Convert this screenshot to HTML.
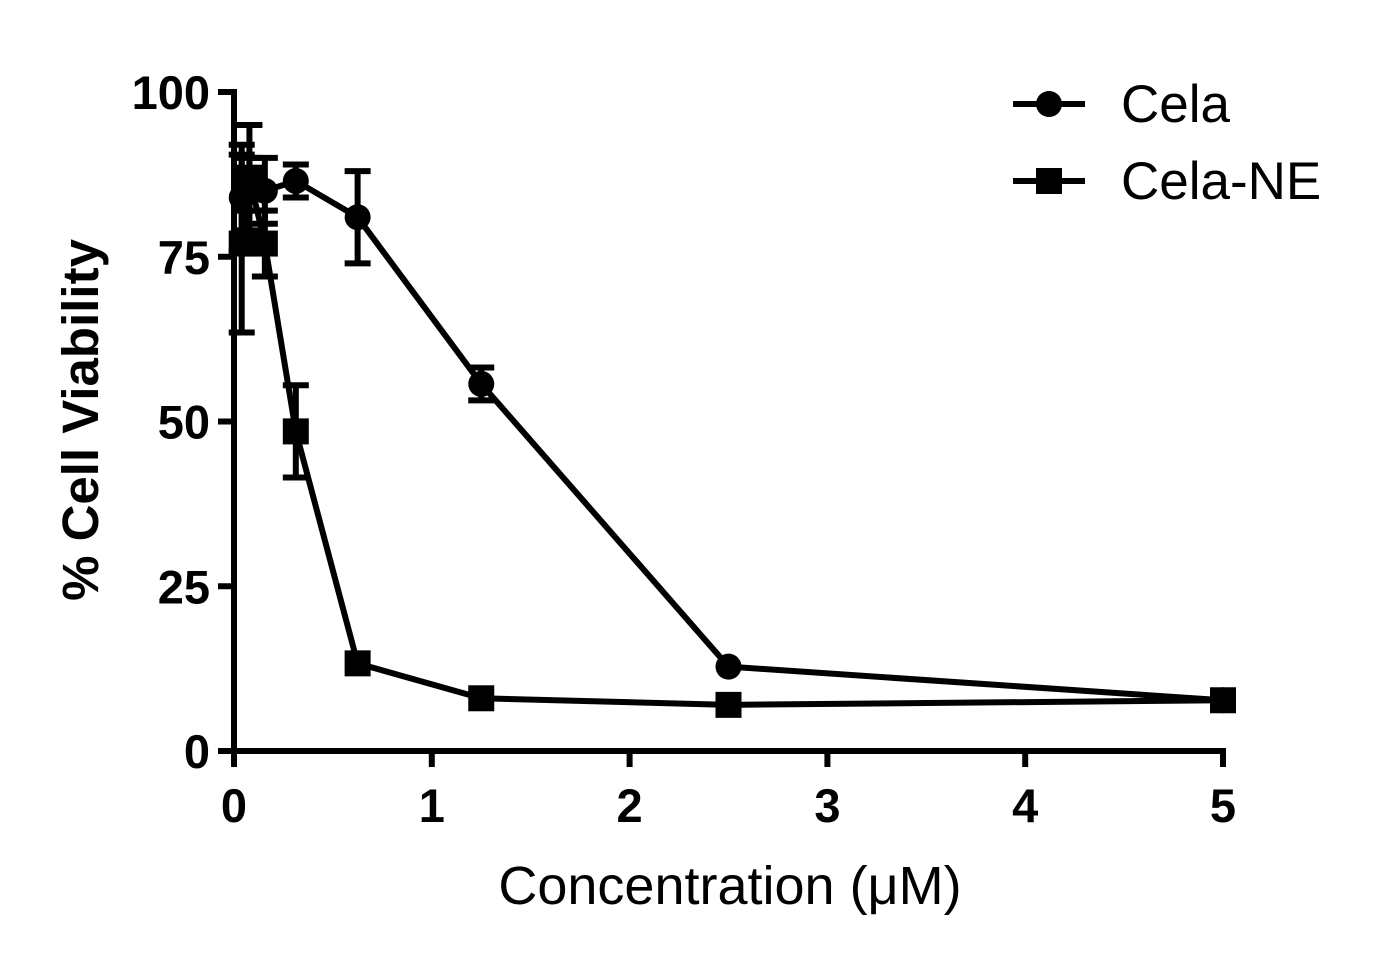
<!DOCTYPE html>
<html><head><meta charset="utf-8"><style>body{margin:0;background:#fff}svg{display:block}</style></head>
<body>
<svg id="c" width="1377" height="964" xmlns="http://www.w3.org/2000/svg" font-family="Liberation Sans, Arial, sans-serif"></svg>
<script>
const xs=[0.039,0.078,0.156,0.3125,0.625,1.25,2.5,5];
const celaVals=[84,86,85,86.5,81,55.7,12.8,7.7];
const celaErr=[8,4,5,2.5,7,2.5,0,0];
const neVals=[77,87,77,48.5,13.3,8,7,7.7];
const neErr=[13.5,8,5,7,0,0,0,0];
const xTicks=[0,1,2,3,4,5];
const yTicks=[0,25,50,75,100];
const svg=document.getElementById('c');const NS='http://www.w3.org/2000/svg';
const X=v=>234+v*197.8, Y=v=>751-v*6.59;
function el(t,a,p){const e=document.createElementNS(NS,t);for(const k in a)e.setAttribute(k,a[k]);(p||svg).appendChild(e);return e;}
const ax=el('g',{stroke:'#000','stroke-width':6,fill:'none'});


el('line',{x1:234,y1:Y(100)-3,x2:234,y2:754},ax);
el('line',{x1:231,y1:751,x2:X(5)+3,y2:751},ax);
xTicks.forEach(t=>{el('line',{x1:X(t),y1:751,x2:X(t),y2:767},ax);
const tx=el('text',{x:X(t),y:822,'font-size':47,'font-weight':'bold','text-anchor':'middle'});tx.textContent=t;

});
yTicks.forEach(t=>{el('line',{x1:218,y1:Y(t),x2:234,y2:Y(t)},ax);
const tx=el('text',{x:210,y:Y(t)+17,'font-size':47,'font-weight':'bold','text-anchor':'end'});tx.textContent=t;

});
function series(vals,errs,shape,name){
const g=el('g',{});


el('polyline',{points:xs.map((x,i)=>X(x)+','+Y(vals[i])).join(' '),fill:'none',stroke:'#000','stroke-width':6},g);
xs.forEach((x,i)=>{const cx=X(x),cy=Y(vals[i]),e=errs[i];
if(e>0){el('line',{x1:cx,y1:Y(vals[i]+e),x2:cx,y2:Y(vals[i]-e),stroke:'#000','stroke-width':6},g);
[vals[i]+e,vals[i]-e].forEach(v=>el('line',{x1:cx-13,y1:Y(v),x2:cx+13,y2:Y(v),stroke:'#000','stroke-width':6},g));}
if(shape==='c')el('circle',{cx,cy,r:13,fill:'#000'},g);else el('rect',{x:cx-13,y:cy-13,width:26,height:26,fill:'#000'},g);});}
series(celaVals,celaErr,'c','cela-series');
series(neVals,neErr,'s','cela-ne-series');
const l1=el('g',{});
el('line',{x1:1013,y1:104,x2:1085,y2:104,stroke:'#000','stroke-width':6},l1);el('circle',{cx:1049,cy:104,r:13},l1);
el('text',{x:1121,y:122,'font-size':53},l1).textContent='Cela';
const l2=el('g',{});
el('line',{x1:1013,y1:181,x2:1085,y2:181,stroke:'#000','stroke-width':6},l2);el('rect',{x:1036,y:168,width:26,height:26},l2);
el('text',{x:1121,y:199,'font-size':53},l2).textContent='Cela-NE';
const xt=el('text',{x:730,y:904,'font-size':54,'text-anchor':'middle'});xt.textContent='Concentration (\u03bcM)';

const yt=el('text',{x:0,y:0,'font-size':51,'font-weight':'bold','text-anchor':'middle',transform:'translate(98,420) rotate(-90)'});yt.textContent='% Cell Viability';

</script>
</body></html>
